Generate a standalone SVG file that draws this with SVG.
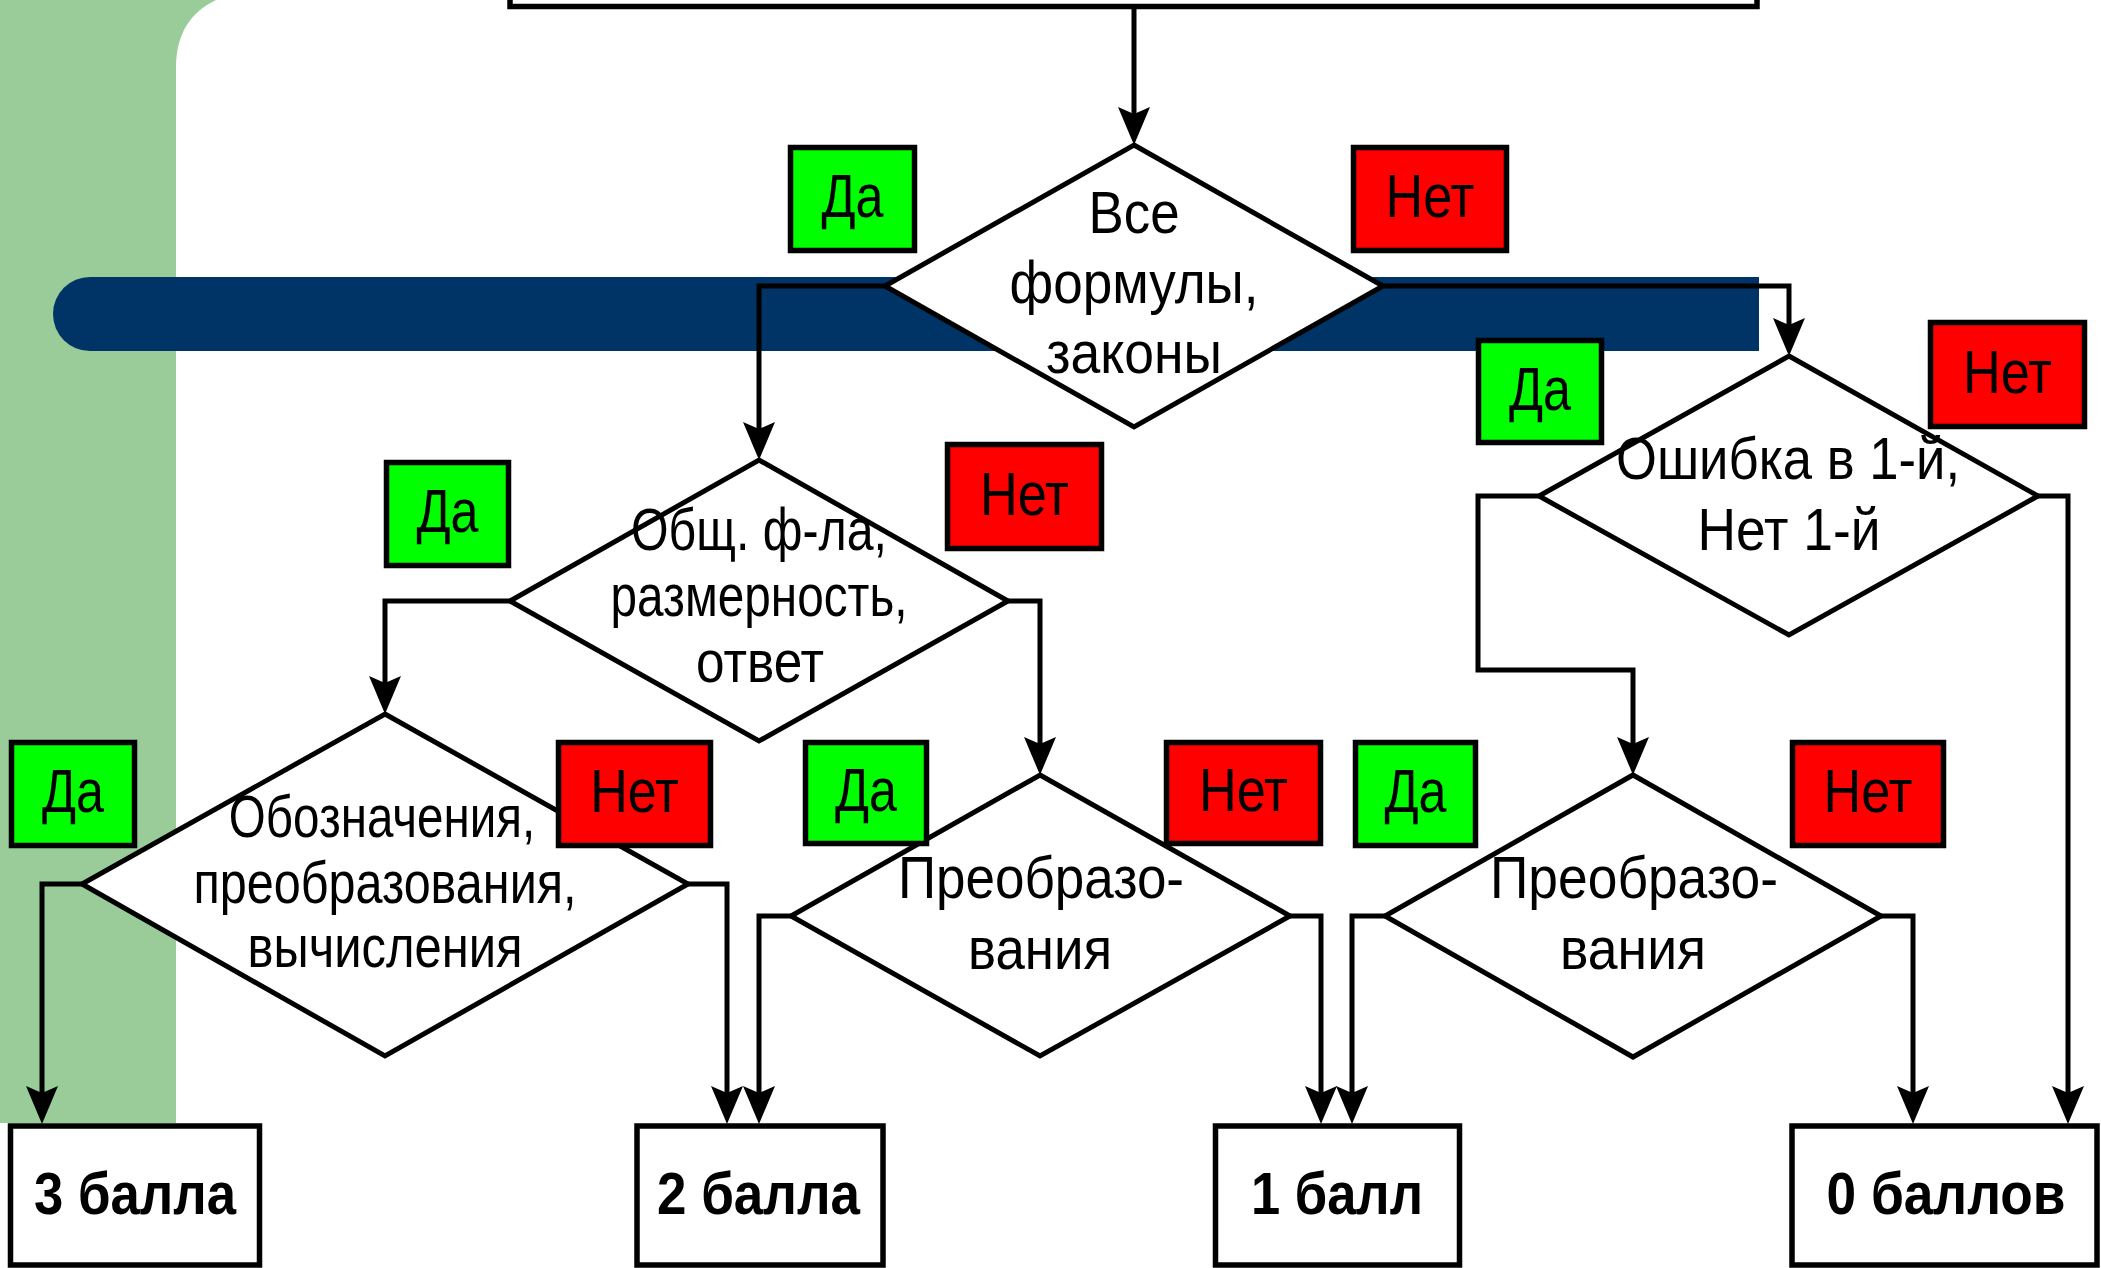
<svg xmlns="http://www.w3.org/2000/svg" width="2101" height="1268" viewBox="0 0 2101 1268">
<defs>
<style>
.ln{fill:none;stroke:#000;stroke-width:5;marker-end:url(#arr)}
.dm{fill:#fff;stroke:#000;stroke-width:5}
.t{font-family:"Liberation Sans",Arial,sans-serif;font-size:59px;text-anchor:middle;fill:#000}
.lt{font-family:"Liberation Sans",Arial,sans-serif;font-size:61px;text-anchor:middle;fill:#000}
.bt{font-family:"Liberation Sans",Arial,sans-serif;font-size:59px;font-weight:bold;text-anchor:middle;fill:#000}
.da{fill:#00ff00;stroke:#000;stroke-width:5.5}
.net{fill:#ff0000;stroke:#000;stroke-width:5.5}
.bx{fill:#fff;stroke:#000;stroke-width:5.5}
</style>
<marker id="arr" markerUnits="userSpaceOnUse" markerWidth="38" markerHeight="34" viewBox="0 0 38 34" refX="18" refY="17" orient="auto">
<path d="M0,1 L38,17 L0,33 L7,17 Z" fill="#000"/>
</marker>
</defs>
<g id="background">
<rect width="2101" height="1268" fill="#fff"/>
<rect x="0" y="0" width="240" height="1123" fill="#99cc99"/>
<path d="M176,1268 V67 C176,35 190,12 216,0 H2101 V1268 Z" fill="#fff"/>
<path d="M90,277 H1759 V351 H90 A37,37 0 0 1 90,277 Z" fill="#003366"/>
</g>
<g id="top-box">
<rect x="510" y="-100" width="1247" height="106.5" fill="#fff" stroke="#000" stroke-width="5.5"/>
</g>
<g id="connectors">
<path class="ln" d="M1134,6 V125"/>
<path class="ln" d="M885,286 H759 V440"/>
<path class="ln" d="M1383,286 H1789 V336"/>
<path class="ln" d="M510,601 H385 V694"/>
<path class="ln" d="M1008,601 H1040 V755"/>
<path class="ln" d="M82,884 H42 V1104"/>
<path class="ln" d="M688,884 H727 V1104"/>
<path class="ln" d="M791,916 H759 V1104"/>
<path class="ln" d="M1290,916 H1321 V1104"/>
<path class="ln" d="M1385,916 H1352 V1104"/>
<path class="ln" d="M1539,496 H1478 V670 H1633 V755"/>
<path class="ln" d="M1881,916 H1913 V1104"/>
<path class="ln" d="M2038,496 H2068 V1104"/>
</g>
<g id="d1">
<polygon class="dm" points="1134,145 1383,286 1134,427 885,286"/>
<text class="t" x="1134" y="233" textLength="91" lengthAdjust="spacingAndGlyphs">Все</text>
<text class="t" x="1134" y="303" textLength="249" lengthAdjust="spacingAndGlyphs">формулы,</text>
<text class="t" x="1134" y="373" textLength="176" lengthAdjust="spacingAndGlyphs">законы</text>
</g>
<g id="d2">
<polygon class="dm" points="759,460 1008,601 759,741 510,601"/>
<text class="t" x="759" y="550" textLength="256" lengthAdjust="spacingAndGlyphs">Общ. ф-ла,</text>
<text class="t" x="759" y="616" textLength="297" lengthAdjust="spacingAndGlyphs">размерность,</text>
<text class="t" x="760" y="682" textLength="128" lengthAdjust="spacingAndGlyphs">ответ</text>
</g>
<g id="d3">
<polygon class="dm" points="385,714 688,884 385,1056 82,884"/>
<text class="t" transform="translate(382,837) scale(0.8,1)" x="0" y="0" textLength="383" lengthAdjust="spacingAndGlyphs">Обозначения,</text>
<text class="t" x="385" y="903" textLength="383" lengthAdjust="spacingAndGlyphs">преобразования,</text>
<text class="t" x="385" y="967" textLength="275" lengthAdjust="spacingAndGlyphs">вычисления</text>
</g>
<g id="d4">
<polygon class="dm" points="1040,775 1290,916 1040,1056 791,916"/>
<text class="t" x="1041" y="898" textLength="286" lengthAdjust="spacingAndGlyphs">Преобразо-</text>
<text class="t" x="1040" y="969" textLength="144" lengthAdjust="spacingAndGlyphs">вания</text>
</g>
<g id="d5">
<polygon class="dm" points="1789,356 2038,496 1789,635 1539,496"/>
<text class="t" x="1788" y="479" textLength="344" lengthAdjust="spacingAndGlyphs">Ошибка в 1-й,</text>
<text class="t" x="1789" y="550" textLength="183" lengthAdjust="spacingAndGlyphs">Нет 1-й</text>
</g>
<g id="d6">
<polygon class="dm" points="1633,775 1881,916 1633,1057 1385,916"/>
<text class="t" x="1634" y="898" textLength="288" lengthAdjust="spacingAndGlyphs">Преобразо-</text>
<text class="t" x="1633" y="969" textLength="146" lengthAdjust="spacingAndGlyphs">вания</text>
</g>
<g id="labels">
<g id="l1"><rect class="da" x="790.5" y="147.5" width="124" height="103"/><text class="lt" x="852.5" y="217" textLength="62" lengthAdjust="spacingAndGlyphs">Да</text></g>
<g id="l2"><rect class="net" x="1353.5" y="147.5" width="153" height="103"/><text class="lt" x="1430" y="217" textLength="89" lengthAdjust="spacingAndGlyphs">Нет</text></g>
<g id="l3"><rect class="da" x="1478.5" y="340.5" width="123" height="102"/><text class="lt" x="1540" y="410" textLength="62" lengthAdjust="spacingAndGlyphs">Да</text></g>
<g id="l4"><rect class="net" x="1930.5" y="322.5" width="154" height="104"/><text class="lt" x="2007.5" y="392.5" textLength="89" lengthAdjust="spacingAndGlyphs">Нет</text></g>
<g id="l5"><rect class="da" x="386.5" y="462.5" width="122" height="103"/><text class="lt" x="447.5" y="532" textLength="62" lengthAdjust="spacingAndGlyphs">Да</text></g>
<g id="l6"><rect class="net" x="947.5" y="444.5" width="154" height="104"/><text class="lt" x="1024.5" y="514.5" textLength="89" lengthAdjust="spacingAndGlyphs">Нет</text></g>
<g id="l7"><rect class="da" x="11.5" y="742.5" width="123" height="103"/><text class="lt" x="73" y="812" textLength="62" lengthAdjust="spacingAndGlyphs">Да</text></g>
<g id="l8"><rect class="net" x="558.5" y="742.5" width="152" height="103"/><text class="lt" transform="translate(634.5,812) scale(0.82,1)" x="0" y="0" textLength="108" lengthAdjust="spacingAndGlyphs">Нет</text></g>
<g id="l9"><rect class="da" x="805.5" y="742.5" width="121" height="101"/><text class="lt" x="866" y="811" textLength="62" lengthAdjust="spacingAndGlyphs">Да</text></g>
<g id="l10"><rect class="net" x="1166.5" y="742.5" width="154" height="101"/><text class="lt" x="1243.5" y="811" textLength="89" lengthAdjust="spacingAndGlyphs">Нет</text></g>
<g id="l11"><rect class="da" x="1355.5" y="742.5" width="120" height="103"/><text class="lt" x="1415.5" y="812" textLength="62" lengthAdjust="spacingAndGlyphs">Да</text></g>
<g id="l12"><rect class="net" x="1792.5" y="742.5" width="151" height="103"/><text class="lt" x="1868" y="812" textLength="89" lengthAdjust="spacingAndGlyphs">Нет</text></g>
</g>
<g id="b3"><rect class="bx" x="10.5" y="1126" width="249" height="139"/><text class="bt" x="135" y="1214" textLength="202" lengthAdjust="spacingAndGlyphs">3 балла</text></g>
<g id="b2"><rect class="bx" x="637" y="1126" width="246" height="139"/><text class="bt" x="758.5" y="1214" textLength="203" lengthAdjust="spacingAndGlyphs">2 балла</text></g>
<g id="b1"><rect class="bx" x="1215.5" y="1126" width="244" height="139"/><text class="bt" x="1337" y="1214" textLength="172" lengthAdjust="spacingAndGlyphs">1 балл</text></g>
<g id="b0"><rect class="bx" x="1792" y="1126" width="305" height="139"/><text class="bt" x="1946" y="1214" textLength="239" lengthAdjust="spacingAndGlyphs">0 баллов</text></g>
</svg>
